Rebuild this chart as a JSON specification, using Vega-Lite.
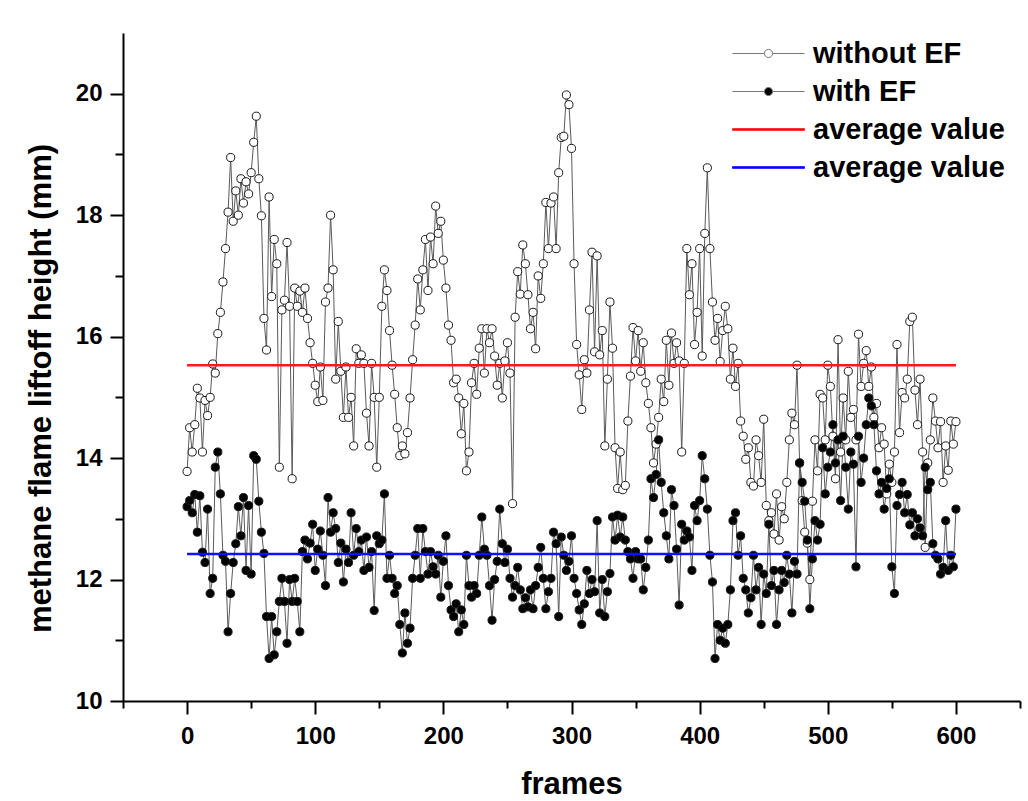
{
"$schema":"https://vega.github.io/schema/vega-lite/v6.json",
"width":897,"height":668,
"autosize":"none",
"padding":{"left":123,"top":33,"right":8,"bottom":100},
"background":"white",
"config":{"view":{"stroke":null},"font":"Liberation Sans"},
"data":{"values":[
{"f":0,"a":13.78,"b":13.2},{"f":2,"a":14.5,"b":13.3},{"f":4,"a":14.1,"b":13.1},{"f":6,"a":14.55,"b":13.4},{"f":8,"a":15.15,"b":12.78},{"f":10,"a":14.99,"b":13.38},{"f":12,"a":14.1,"b":12.45},{"f":14,"a":14.95,"b":12.28},{"f":16,"a":14.7,"b":13.16},{"f":18,"a":15.0,"b":11.77},{"f":20,"a":15.55,"b":12.02},{"f":22,"a":15.4,"b":13.85},{"f":24,"a":16.05,"b":14.1},{"f":26,"a":16.4,"b":13.41},{"f":28,"a":16.9,"b":12.4},{"f":30,"a":17.45,"b":12.3},{"f":32,"a":18.05,"b":11.14},{"f":34,"a":18.95,"b":11.77},{"f":36,"a":17.9,"b":12.28},{"f":38,"a":18.4,"b":12.59},{"f":40,"a":18.0,"b":13.2},{"f":42,"a":18.6,"b":12.72},{"f":44,"a":18.2,"b":13.35},{"f":46,"a":18.55,"b":12.15},{"f":48,"a":18.35,"b":13.22},{"f":50,"a":18.7,"b":12.09},{"f":52,"a":19.2,"b":14.04},{"f":54,"a":19.63,"b":13.98},{"f":56,"a":18.6,"b":13.29},{"f":58,"a":17.99,"b":12.78},{"f":60,"a":16.3,"b":12.43},{"f":62,"a":15.78,"b":11.39},{"f":64,"a":18.3,"b":10.7},{"f":66,"a":16.66,"b":11.39},{"f":68,"a":17.6,"b":10.76},{"f":70,"a":17.2,"b":11.14},{"f":72,"a":13.85,"b":11.64},{"f":74,"a":16.44,"b":12.02},{"f":76,"a":16.6,"b":11.64},{"f":78,"a":17.55,"b":10.95},{"f":80,"a":16.5,"b":12.0},{"f":82,"a":13.66,"b":11.64},{"f":84,"a":16.8,"b":12.02},{"f":86,"a":16.5,"b":11.64},{"f":88,"a":16.75,"b":11.14},{"f":90,"a":16.4,"b":12.46},{"f":92,"a":16.8,"b":12.65},{"f":94,"a":16.3,"b":12.34},{"f":96,"a":15.9,"b":12.6},{"f":98,"a":15.56,"b":12.91},{"f":100,"a":15.2,"b":12.15},{"f":102,"a":14.93,"b":12.5},{"f":104,"a":15.5,"b":12.8},{"f":106,"a":14.95,"b":12.4},{"f":108,"a":16.57,"b":11.9},{"f":110,"a":16.8,"b":13.35},{"f":112,"a":18.0,"b":12.78},{"f":114,"a":17.1,"b":13.1},{"f":116,"a":15.3,"b":12.84},{"f":118,"a":16.25,"b":12.28},{"f":120,"a":15.43,"b":12.6},{"f":122,"a":14.67,"b":11.96},{"f":124,"a":15.5,"b":12.5},{"f":126,"a":14.67,"b":12.28},{"f":128,"a":15.0,"b":13.1},{"f":130,"a":14.2,"b":12.4},{"f":132,"a":15.8,"b":12.84},{"f":134,"a":15.56,"b":12.46},{"f":136,"a":15.7,"b":12.65},{"f":138,"a":15.56,"b":12.15},{"f":140,"a":14.74,"b":12.7},{"f":142,"a":14.2,"b":12.2},{"f":144,"a":15.56,"b":12.46},{"f":146,"a":15.0,"b":11.49},{"f":148,"a":13.85,"b":12.72},{"f":150,"a":15.0,"b":12.59},{"f":152,"a":16.5,"b":12.65},{"f":154,"a":17.1,"b":13.41},{"f":156,"a":16.76,"b":12.02},{"f":158,"a":16.1,"b":12.4},{"f":160,"a":15.53,"b":12.02},{"f":162,"a":15.05,"b":11.77},{"f":164,"a":14.5,"b":11.9},{"f":166,"a":14.04,"b":11.26},{"f":168,"a":14.2,"b":10.79},{"f":170,"a":14.07,"b":11.45},{"f":172,"a":14.42,"b":10.95},{"f":174,"a":14.99,"b":11.2},{"f":176,"a":15.62,"b":12.02},{"f":178,"a":16.19,"b":12.4},{"f":180,"a":16.95,"b":12.84},{"f":182,"a":16.44,"b":12.02},{"f":184,"a":17.1,"b":12.84},{"f":186,"a":17.6,"b":12.46},{"f":188,"a":16.76,"b":12.09},{"f":190,"a":17.64,"b":12.46},{"f":192,"a":17.2,"b":12.21},{"f":194,"a":18.15,"b":12.09},{"f":196,"a":17.7,"b":12.4},{"f":198,"a":17.9,"b":11.71},{"f":200,"a":17.26,"b":12.3},{"f":202,"a":16.8,"b":12.72},{"f":204,"a":16.19,"b":11.9},{"f":206,"a":15.94,"b":11.5},{"f":208,"a":15.24,"b":11.39},{"f":210,"a":15.3,"b":11.6},{"f":212,"a":14.99,"b":11.14},{"f":214,"a":14.4,"b":11.5},{"f":216,"a":14.9,"b":11.26},{"f":218,"a":13.79,"b":12.4},{"f":220,"a":14.1,"b":11.9},{"f":222,"a":15.24,"b":11.71},{"f":224,"a":15.56,"b":11.9},{"f":226,"a":15.05,"b":11.77},{"f":228,"a":15.81,"b":12.4},{"f":230,"a":16.13,"b":13.03},{"f":232,"a":15.4,"b":12.5},{"f":234,"a":16.13,"b":12.4},{"f":236,"a":15.9,"b":11.9},{"f":238,"a":16.13,"b":11.33},{"f":240,"a":15.68,"b":12.0},{"f":242,"a":15.2,"b":12.3},{"f":244,"a":15.56,"b":13.16},{"f":246,"a":14.99,"b":12.59},{"f":248,"a":15.6,"b":12.28},{"f":250,"a":15.9,"b":12.5},{"f":252,"a":15.4,"b":12.02},{"f":254,"a":13.25,"b":11.71},{"f":256,"a":16.32,"b":11.9},{"f":258,"a":17.07,"b":12.2},{"f":260,"a":16.7,"b":11.83},{"f":262,"a":17.51,"b":11.52},{"f":264,"a":17.2,"b":11.7},{"f":266,"a":16.69,"b":11.55},{"f":268,"a":16.13,"b":11.83},{"f":270,"a":16.4,"b":11.52},{"f":272,"a":15.8,"b":11.9},{"f":274,"a":17.0,"b":12.2},{"f":276,"a":16.63,"b":12.53},{"f":278,"a":17.2,"b":12.02},{"f":280,"a":18.21,"b":11.52},{"f":282,"a":17.45,"b":11.8},{"f":284,"a":18.2,"b":12.02},{"f":286,"a":18.3,"b":12.78},{"f":288,"a":17.45,"b":12.59},{"f":290,"a":18.7,"b":11.39},{"f":292,"a":19.28,"b":12.7},{"f":294,"a":19.3,"b":12.4},{"f":296,"a":19.98,"b":12.15},{"f":298,"a":19.82,"b":12.3},{"f":300,"a":19.1,"b":12.72},{"f":302,"a":17.2,"b":12.02},{"f":304,"a":15.87,"b":11.77},{"f":306,"a":15.37,"b":11.5},{"f":308,"a":14.8,"b":11.26},{"f":310,"a":15.62,"b":11.6},{"f":312,"a":15.4,"b":12.15},{"f":314,"a":16.44,"b":11.77},{"f":316,"a":17.39,"b":12.0},{"f":318,"a":15.75,"b":11.8},{"f":320,"a":17.33,"b":12.97},{"f":322,"a":15.7,"b":11.45},{"f":324,"a":16.1,"b":12.0},{"f":326,"a":14.2,"b":11.39},{"f":328,"a":15.3,"b":11.8},{"f":330,"a":16.57,"b":12.1},{"f":332,"a":15.81,"b":13.03},{"f":334,"a":14.17,"b":12.65},{"f":336,"a":13.5,"b":13.06},{"f":338,"a":14.1,"b":12.7},{"f":340,"a":13.48,"b":13.03},{"f":342,"a":13.55,"b":12.65},{"f":344,"a":14.61,"b":12.46},{"f":346,"a":15.35,"b":12.34},{"f":348,"a":16.15,"b":12.02},{"f":350,"a":15.6,"b":12.46},{"f":352,"a":16.1,"b":12.34},{"f":354,"a":15.43,"b":12.34},{"f":356,"a":15.9,"b":11.83},{"f":358,"a":15.24,"b":12.2},{"f":360,"a":14.9,"b":12.65},{"f":362,"a":14.5,"b":13.66},{"f":364,"a":13.92,"b":13.35},{"f":366,"a":14.23,"b":13.73},{"f":368,"a":14.67,"b":14.3},{"f":370,"a":15.3,"b":13.6},{"f":372,"a":14.93,"b":13.1},{"f":374,"a":15.94,"b":12.72},{"f":376,"a":15.2,"b":12.34},{"f":378,"a":16.06,"b":13.48},{"f":380,"a":15.56,"b":13.22},{"f":382,"a":15.9,"b":12.5},{"f":384,"a":15.6,"b":11.58},{"f":386,"a":14.1,"b":12.91},{"f":388,"a":15.56,"b":12.65},{"f":390,"a":17.45,"b":12.8},{"f":392,"a":16.69,"b":12.7},{"f":394,"a":17.2,"b":12.15},{"f":396,"a":15.87,"b":13.22},{"f":398,"a":16.4,"b":12.97},{"f":400,"a":17.45,"b":13.3},{"f":402,"a":15.68,"b":14.04},{"f":404,"a":17.7,"b":13.66},{"f":406,"a":18.78,"b":13.16},{"f":408,"a":17.45,"b":12.4},{"f":410,"a":16.57,"b":11.96},{"f":412,"a":15.94,"b":10.7},{"f":414,"a":16.3,"b":11.26},{"f":416,"a":15.59,"b":11.0},{"f":418,"a":16.1,"b":11.2},{"f":420,"a":16.5,"b":10.95},{"f":422,"a":16.13,"b":11.26},{"f":424,"a":15.3,"b":11.83},{"f":426,"a":15.81,"b":12.97},{"f":428,"a":15.18,"b":13.1},{"f":430,"a":15.56,"b":12.4},{"f":432,"a":14.61,"b":12.72},{"f":434,"a":14.36,"b":12.02},{"f":436,"a":13.98,"b":11.83},{"f":438,"a":14.17,"b":11.45},{"f":440,"a":13.6,"b":11.7},{"f":442,"a":13.54,"b":12.4},{"f":444,"a":14.3,"b":11.83},{"f":446,"a":14.04,"b":12.2},{"f":448,"a":13.6,"b":11.26},{"f":450,"a":14.64,"b":12.09},{"f":452,"a":13.22,"b":11.77},{"f":454,"a":12.97,"b":12.91},{"f":456,"a":13.1,"b":11.9},{"f":458,"a":12.75,"b":12.15},{"f":460,"a":13.41,"b":11.26},{"f":462,"a":12.65,"b":11.83},{"f":464,"a":13.2,"b":12.15},{"f":466,"a":13.0,"b":11.95},{"f":468,"a":13.6,"b":12.4},{"f":470,"a":14.3,"b":12.09},{"f":472,"a":14.74,"b":11.45},{"f":474,"a":14.55,"b":12.3},{"f":476,"a":15.53,"b":12.09},{"f":478,"a":13.92,"b":13.92},{"f":480,"a":13.3,"b":13.6},{"f":482,"a":12.78,"b":13.29},{"f":484,"a":12.6,"b":12.65},{"f":486,"a":12.0,"b":11.52},{"f":488,"a":13.29,"b":12.34},{"f":490,"a":14.3,"b":12.97},{"f":492,"a":13.79,"b":12.65},{"f":494,"a":15.05,"b":12.91},{"f":496,"a":14.99,"b":14.17},{"f":498,"a":14.3,"b":13.41},{"f":500,"a":15.53,"b":13.85},{"f":502,"a":15.18,"b":14.1},{"f":504,"a":14.36,"b":14.55},{"f":506,"a":13.66,"b":13.92},{"f":508,"a":15.95,"b":14.3},{"f":510,"a":14.1,"b":13.3},{"f":512,"a":14.99,"b":14.36},{"f":514,"a":14.3,"b":13.85},{"f":516,"a":15.43,"b":13.16},{"f":518,"a":14.67,"b":14.1},{"f":520,"a":14.8,"b":13.9},{"f":522,"a":14.3,"b":12.21},{"f":524,"a":16.04,"b":14.36},{"f":526,"a":15.18,"b":13.6},{"f":528,"a":15.56,"b":14.0},{"f":530,"a":15.77,"b":14.55},{"f":532,"a":15.18,"b":14.99},{"f":534,"a":15.5,"b":14.86},{"f":536,"a":14.67,"b":14.55},{"f":538,"a":14.9,"b":13.79},{"f":540,"a":14.17,"b":13.41},{"f":542,"a":14.5,"b":13.6},{"f":544,"a":14.23,"b":13.16},{"f":546,"a":13.41,"b":13.5},{"f":548,"a":13.9,"b":13.66},{"f":550,"a":13.6,"b":12.21},{"f":552,"a":14.1,"b":11.77},{"f":554,"a":15.87,"b":13.22},{"f":556,"a":14.42,"b":13.4},{"f":558,"a":15.08,"b":13.6},{"f":560,"a":14.99,"b":13.1},{"f":562,"a":15.3,"b":13.4},{"f":564,"a":16.25,"b":12.9},{"f":566,"a":16.32,"b":13.1},{"f":568,"a":15.12,"b":12.72},{"f":570,"a":14.55,"b":13.0},{"f":572,"a":15.3,"b":12.85},{"f":574,"a":14.1,"b":12.72},{"f":576,"a":12.53,"b":13.85},{"f":578,"a":13.92,"b":13.48},{"f":580,"a":14.3,"b":13.6},{"f":582,"a":14.99,"b":12.59},{"f":584,"a":14.61,"b":12.4},{"f":586,"a":14.17,"b":12.34},{"f":588,"a":14.6,"b":12.09},{"f":590,"a":13.6,"b":12.2},{"f":592,"a":14.2,"b":12.97},{"f":594,"a":13.8,"b":12.15},{"f":596,"a":14.61,"b":12.4},{"f":598,"a":14.23,"b":12.21},{"f":600,"a":14.6,"b":13.16}
]},
"transform":[{"fold":["a","b"],"as":["k","v"]}],
"encoding":{
 "x":{"field":"f","type":"quantitative","scale":{"domain":[-50,650],"nice":false,"zero":false},
  "axis":{"values":[-50,0,50,100,150,200,250,300,350,400,450,500,550,600,650],
   "labelExpr":"datum.value % 100 === 0 ? datum.label : ''",
   "tickSize":{"condition":{"test":"datum.value % 100 === 0","value":13},"value":7},
   "grid":false,"domainColor":"black","domainWidth":2,"tickColor":"black","tickWidth":2,
   "labelFont":"Liberation Sans","labelFontWeight":"bold","labelFontSize":24,"labelColor":"black",
   "labelPadding":10,"labelFlush":false,"labelOverlap":false,
   "title":"frames","titleFont":"Liberation Sans","titleFontWeight":"bold","titleFontSize":31,"titleColor":"black","titlePadding":21}},
 "y":{"field":"v","type":"quantitative","scale":{"domain":[10,21],"nice":false,"zero":false},
  "axis":{"values":[10,11,12,13,14,15,16,17,18,19,20],
   "labelExpr":"datum.value % 2 === 0 ? datum.label : ''",
   "tickSize":{"condition":{"test":"datum.value % 2 === 0","value":13},"value":8},
   "grid":false,"domainColor":"black","domainWidth":2,"tickColor":"black","tickWidth":2,
   "labelFont":"Liberation Sans","labelFontWeight":"bold","labelFontSize":24,"labelColor":"black",
   "labelPadding":8,"labelFlush":false,"labelOverlap":false,
   "title":"methane flame liftoff height (mm)","titleFont":"Liberation Sans","titleFontWeight":"bold","titleFontSize":31,"titleColor":"black",
   "titleAngle":-90,"titleX":-82,"titleY":355,"titleAlign":"center","titleBaseline":"middle"}}
},
"layer":[
 {"mark":{"type":"line","color":"#5a5a5a","strokeWidth":1},"encoding":{"detail":{"field":"k"}}},
 {"mark":{"type":"point","filled":false,"stroke":"#1a1a1a","strokeWidth":1,"size":66,"opacity":1},
  "encoding":{
   "fill":{"field":"k","type":"nominal","scale":{"domain":["a","b","avg1","avg2"],"range":["white","black","red","blue"]}},
   "order":{"field":"k"}}},
 {"data":{"values":[{"x1":0,"x2":600,"y":15.53}]},"mark":{"type":"rule","color":"#ff1a1a","strokeWidth":2.5},
  "encoding":{"x":{"field":"x1","type":"quantitative"},"x2":{"field":"x2"},"y":{"field":"y","type":"quantitative"}}},
 {"data":{"values":[{"x1":0,"x2":600,"y":12.42}]},"mark":{"type":"rule","color":"#1010ff","strokeWidth":2.5},
  "encoding":{"x":{"field":"x1","type":"quantitative"},"x2":{"field":"x2"},"y":{"field":"y","type":"quantitative"}}},
 {"mark":{"type":"point","opacity":0,"filled":false,"strokeWidth":1},
  "encoding":{
   "shape":{"field":"k","type":"nominal",
    "scale":{"domain":["a","b","avg1","avg2"],"range":[
      "M-3,0H-0.34M0.34,0H3M-0.34,0A0.34,0.34,0,1,1,0.34,0A0.34,0.34,0,1,1,-0.34,0Z",
      "M-3,0H-0.34M0.34,0H3M-0.34,0A0.34,0.34,0,1,1,0.34,0A0.34,0.34,0,1,1,-0.34,0Z",
      "M-3,-0.07H3V0.07H-3Z",
      "M-3,-0.07H3V0.07H-3Z"]},
    "legend":{"orient":"none","legendX":631,"legendY":6,"title":null,"padding":0,
     "labelExpr":"datum.label=='a' ? 'without EF' : datum.label=='b' ? 'with EF' : 'average value'",
     "labelFont":"Liberation Sans","labelFontWeight":"bold","labelFontSize":29,"labelColor":"black","labelLimit":400,
     "labelOffset":30,"rowPadding":8,"symbolSize":576,"symbolOpacity":1,"symbolStrokeWidth":1}},
   "stroke":{"field":"k","type":"nominal","scale":{"domain":["a","b","avg1","avg2"],"range":["#777777","#777777","#ff1a1a","#1010ff"]}},
   "fill":{"field":"k","type":"nominal"}}}
]
}
